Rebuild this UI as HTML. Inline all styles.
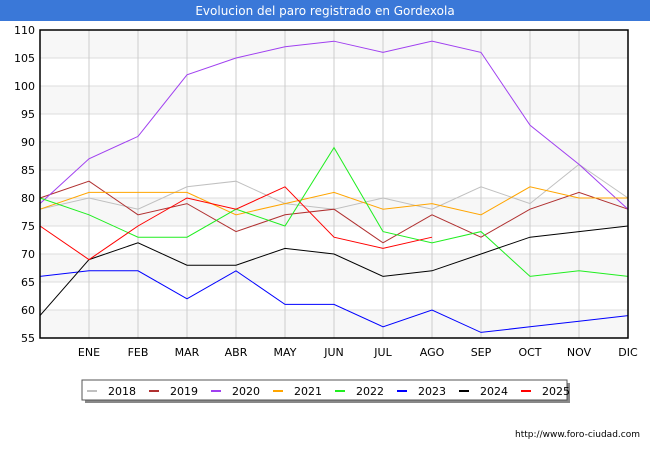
<!DOCTYPE html>
<html><head><meta charset="utf-8"><style>
body{margin:0;width:650px;height:450px;background:#fff;font-family:"DejaVu Sans","Liberation Sans",sans-serif;overflow:hidden}
</style></head><body>
<svg id="c" width="650" height="450" xmlns="http://www.w3.org/2000/svg">
<rect x="0" y="0" width="650" height="21" fill="#3a78d8"/>
<text x="325" y="15" text-anchor="middle" fill="#fff" font-size="12">Evolucion del paro registrado en Gordexola</text>
<g id="grid"></g><g id="series"></g><g id="axes"></g>
<text x="640" y="437" text-anchor="end" font-size="9" fill="#000">http://www.foro-ciudad.com</text>
</svg>
<script>
const months=["","ENE","FEB","MAR","ABR","MAY","JUN","JUL","AGO","SEP","OCT","NOV","DIC"];
const yTicks=[55,60,65,70,75,80,85,90,95,100,105,110];
const years=["2018","2019","2020","2021","2022","2023","2024","2025"];
const colors=["#c0c0c0","#b03030","#a040f0","#ffa500","#20ee20","#0000ff","#000000","#ff0000"];
const s2018=[78,80,78,82,83,79,78,80,78,82,79,86,80];
const s2019=[80,83,77,79,74,77,78,72,77,73,78,81,78];
const s2020=[79,87,91,102,105,107,108,106,108,106,93,86,78];
const s2021=[78,81,81,81,77,79,81,78,79,77,82,80,80];
const s2022=[80,77,73,73,78,75,89,74,72,74,66,67,66];
const s2023=[66,67,67,62,67,61,61,57,60,56,57,58,59];
const s2024=[59,69,72,68,68,71,70,66,67,70,73,74,75];
const s2025=[75,69,75,80,78,82,73,71,73];
const series=[s2018,s2019,s2020,s2021,s2022,s2023,s2024,s2025];
const X0=40,X1=628,Y0=338,Y1=30,VMIN=55,VMAX=110;
const x=i=>X0+i*(X1-X0)/12;
const y=v=>Y0-(v-VMIN)*(Y0-Y1)/(VMAX-VMIN);
const NS="http://www.w3.org/2000/svg";
function mk(t,a,p){const e=document.createElementNS(NS,t);for(const k in a)e.setAttribute(k,a[k]);p.appendChild(e);return e;}
const grid=document.getElementById('grid'),ser=document.getElementById('series'),ax=document.getElementById('axes');
for(let i=0;i<yTicks.length-1;i++){
 if(i%2==0){const r=mk('rect',{x:X0,y:y(yTicks[i+1]),width:X1-X0,height:y(yTicks[i])-y(yTicks[i+1]),fill:'#f7f7f7'},grid);
 
 }
}
yTicks.forEach(v=>{
 const l=mk('line',{x1:X0,x2:X1,y1:y(v),y2:y(v),stroke:'#ddd','stroke-width':1},grid);
 
 
 const t=mk('text',{x:X0-5,y:y(v)+4,'text-anchor':'end','font-size':11,fill:'#000'},ax);t.textContent=v;
 
 
});
months.forEach((m,i)=>{
 if(i>0){const l=mk('line',{x1:x(i),x2:x(i),y1:Y1,y2:Y0,stroke:'#ccc','stroke-width':1},grid);
 
 }
 const t=mk('text',{x:x(i),y:356,'text-anchor':'middle','font-size':11,fill:'#000'},ax);t.textContent=m;
 
 
});
const frame=mk('rect',{x:X0,y:Y1,width:X1-X0,height:Y0-Y1,fill:'none',stroke:'#000','stroke-width':1.5},ax);


series.forEach((s,k)=>{
 const p=mk('polyline',{points:s.map((v,i)=>x(i)+','+y(v)).join(' '),fill:'none',stroke:colors[k],'stroke-width':1},ser);
 
 
});
const lg=mk('g',{},ax);


mk('rect',{x:85,y:383,width:485,height:20,fill:'#888'},lg);
mk('rect',{x:82,y:380,width:485,height:20,fill:'#fff',stroke:'#555','stroke-width':1},lg);
years.forEach((yr,k)=>{
 const bx=87+k*62;
 const g=mk('g',{},lg);
 
 
 mk('line',{x1:bx,x2:bx+10,y1:391,y2:391,stroke:colors[k],'stroke-width':2},g);
 const t=mk('text',{x:bx+21,y:395,'font-size':11,fill:'#000'},g);t.textContent=yr;
});
</script>
</body></html>
